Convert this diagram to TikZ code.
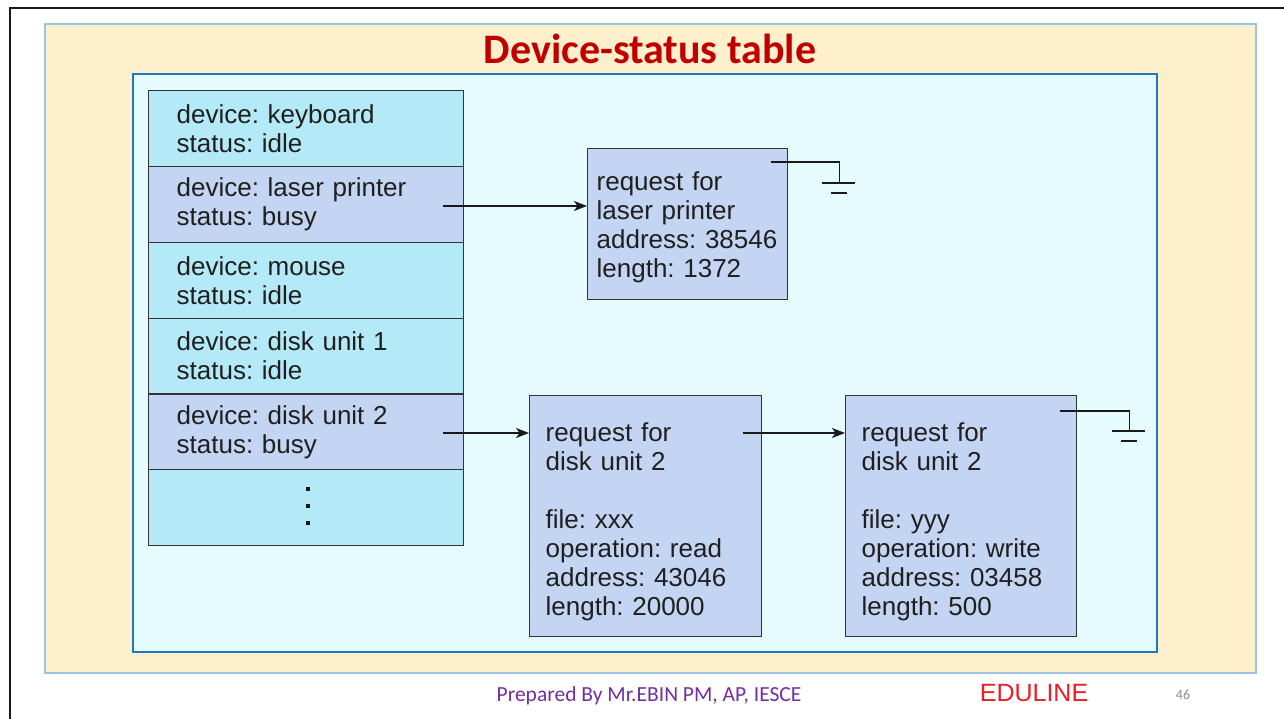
\documentclass[tikz,border=0pt]{standalone}
\usepackage{fontspec}
\setmainfont{Liberation Sans}
\newfontfamily\calibri{Carlito}
\usetikzlibrary{arrows.meta,calc}
\frenchspacing

\definecolor{slidebeige}{HTML}{FEF0CD}
\definecolor{beigeedge}{HTML}{9DC3E6}
\definecolor{panelbg}{HTML}{E6FBFD}
\definecolor{paneledge}{HTML}{1C79C0}
\definecolor{rowcyan}{HTML}{B4E9F8}
\definecolor{rowlav}{HTML}{C3D5F3}
\definecolor{boxline}{HTML}{333333}
\definecolor{titlered}{HTML}{C00000}
\definecolor{footpurple}{HTML}{7030A0}
\definecolor{brandred}{HTML}{EE1C25}
\definecolor{pagegray}{HTML}{8C8C8C}

\tikzset{
  diagfont/.style={font=\fontsize{26}{29}\selectfont, text=black!88},
  tablerow/.style={diagfont, draw=boxline, line width=1.3pt, anchor=north west,
    minimum width=315pt, minimum height=75.83pt, inner xsep=28pt, inner ysep=0pt,
    text width=259pt, align=left},
  reqbox/.style={diagfont, draw=boxline, line width=1.3pt, fill=rowlav, anchor=north west,
    minimum height=241pt, inner ysep=0pt, align=left},
  conn/.style={draw=black!90, line width=1.6pt, -{Stealth[length=13pt,width=10pt,inset=3.5pt]}},
  gnd/.style={draw=black!90, line width=1.6pt},
  dotmark/.style={fill=black!90, minimum size=4pt, inner sep=0pt},
  earth/.pic={
    \draw[gnd] (-17,0) -- (16,0);
    \draw[gnd] (-8,10) -- (8,10);
  }
}

\begin{document}
\begin{tikzpicture}[x=1pt,y=-1pt]
  % page and slide frame
  \fill[white] (0,0) rectangle (1284,719);
  \useasboundingbox (0,0) rectangle (1284,719);
  \draw[line width=2.6pt, black!90] (10,719) -- (10,8) -- (1284,8);
  \draw[draw=beigeedge, fill=slidebeige, line width=1.2pt] (45,24) rectangle (1256,673);
  \draw[draw=paneledge, fill=panelbg, line width=1.5pt] (133,74) rectangle (1157,652);

  % title
  \node[font=\calibri\bfseries\fontsize{42}{50}\selectfont, text=titlered, anchor=base]
    (title) at (650,64) {Device-status table};

  % device-status table
  \node[tablerow, fill=rowcyan] (kbd)   at (148,90)     {device: keyboard\\status: idle};
  \node[tablerow, fill=rowlav]  (laser) at (148,165.83) {device: laser printer\\status: busy};
  \node[tablerow, fill=rowcyan] (mouse) at (148,241.67) {device: mouse\\status: idle};
  \node[tablerow, fill=rowcyan] (disk1) at (148,317.5)  {device: disk unit 1\\status: idle};
  \node[tablerow, fill=rowlav]  (disk2) at (148,393.33) {device: disk unit 2\\status: busy};
  \node[tablerow, fill=rowcyan] (more)  at (148,469.17) {};
  \node[dotmark] (dotA) at (308,489) {};
  \node[dotmark] (dotB) at (308,506) {};
  \node[dotmark] (dotC) at (308,523) {};

  % request queues
  \node[reqbox, minimum width=200pt, minimum height=151pt, inner xsep=9pt, text width=182pt]
    (req1) at (587,148) {\rule{0pt}{25pt}request for\\laser printer\\address: 38546\\length: 1372};
  \node[reqbox, minimum width=232pt, inner xsep=16pt, text width=200pt]
    (req2) at (529,395) {\rule{0pt}{31pt}request for\\disk unit 2\\[29pt]file: xxx\\operation: read\\address: 43046\\length: 20000};
  \node[reqbox, minimum width=231pt, inner xsep=16pt, text width=199pt]
    (req3) at (845,395) {\rule{0pt}{31pt}request for\\disk unit 2\\[29pt]file: yyy\\operation: write\\address: 03458\\length: 500};

  % queue links
  \coordinate (laserptr) at (443,206);
  \draw[conn] (laserptr) -- (laserptr -| req1.west);
  \coordinate (diskptr) at (443,433);
  \draw[conn] (diskptr) -- (diskptr -| req2.west);
  \coordinate (nextptr) at (743,433);
  \draw[conn] (nextptr) -- (nextptr -| req3.west);

  % null terminators
  \coordinate (end1) at ($(req1.north east)+(-17,14)$);
  \draw[gnd] (end1) -- ++(68,0) -- ++(0,21) coordinate (end1g);
  \pic at (end1g) {earth};
  \coordinate (end2) at ($(req3.north east)+(-17,16)$);
  \draw[gnd] (end2) -- ++(69,0) -- ++(0,20) coordinate (end2g);
  \pic at (end2g) {earth};

  % footer
  \node[font=\calibri\fontsize{21.5}{26}\selectfont, text=footpurple, anchor=base]
    (credit) at (649,701) {Prepared By Mr.EBIN PM, AP, IESCE};
  \node[font=\fontsize{25}{30}\selectfont, text=brandred, anchor=base]
    (brand) at (1034,701) {EDULINE};
  \node[font=\calibri\fontsize{14}{17}\selectfont, text=pagegray, anchor=base]
    (pageno) at (1183,699) {46};
\end{tikzpicture}
\end{document}
